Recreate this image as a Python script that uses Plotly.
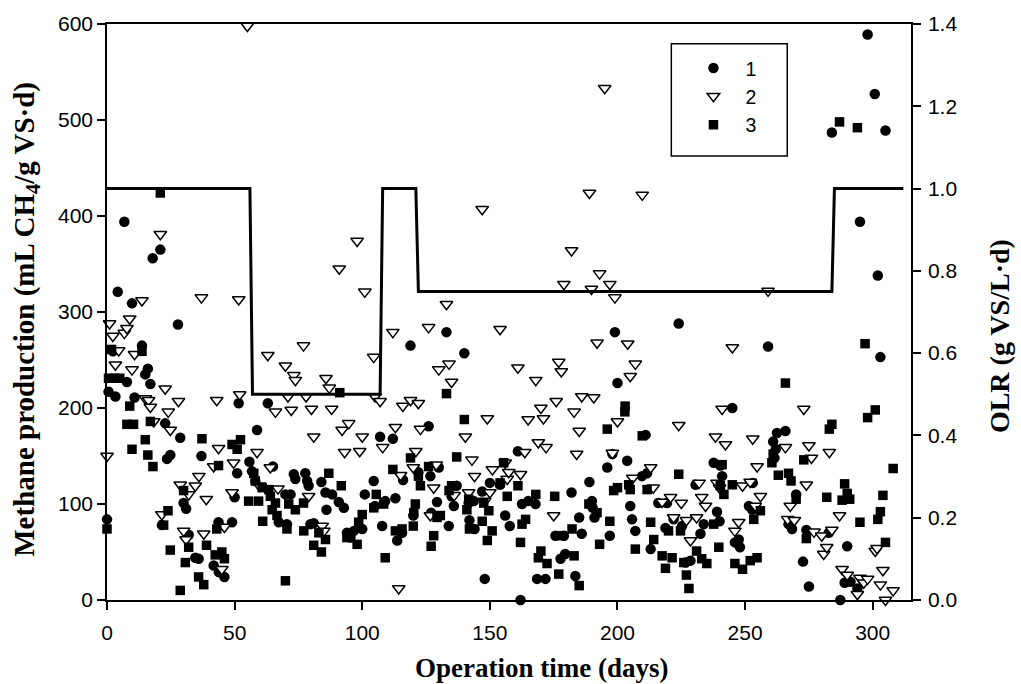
import plotly.graph_objects as go

# ---------------- data ----------------
olr_day = [0, 56, 57, 107, 108, 121, 122, 284, 285, 312]
olr_val = [1.0, 1.0, 0.5, 0.5, 1.0, 1.0, 0.75, 0.75, 1.0, 1.0]

s1_day = [0, 0.6, 2.3, 3.3, 4.2, 6.8, 7.8, 9.8, 10.8, 13.7, 15, 16, 17, 17.9, 20.9, 21.5, 22.8, 23.5,
          24.8, 27.8, 28.7, 30, 31, 32, 34.6, 35.9, 37, 41.8, 43.7, 43.8, 46, 49, 50, 51, 51.6,
          55.8, 56.8, 58.1, 58.8, 63, 65, 67.3, 69.9, 70.5, 71.9, 73.2, 73.8, 77.7, 78.4, 79, 79.7,
          81, 84, 85.6, 86, 88.2, 90.8, 92.8, 94, 95.4, 96.7, 100, 101, 104.5, 105,
          107, 107.8, 109, 112, 113, 113.7, 115.6, 116, 118.9, 120, 122, 126, 126.7, 127, 129.3,
          130, 133, 133.9, 135, 135.9, 137, 140, 141.7, 142, 143.7, 144, 147, 148, 150, 154, 156,
          157.8, 161, 162, 162.6, 165, 167.9, 168.5, 171.8, 175.7, 177.7, 179, 179.5, 182, 183.5,
          185, 186, 189, 190, 190.3, 191, 196, 197, 198, 199, 200, 203.8, 205, 205.7, 207, 209.6,
          211, 211.6, 213, 216, 218.8, 219.4, 222, 224, 225.3, 226.6, 228.6, 230.6, 232.5, 233.8,
          237.7, 239, 240, 240.3, 241, 245, 246, 247.5, 248, 251.5, 252.8, 253, 259,
          261, 261.5, 262, 262.5, 265.8, 267, 268.4, 270, 272.7, 274, 275, 282.8, 284, 287.3, 289,
          290, 291.3, 294, 295, 298, 300.8, 302, 303, 305]
s1_val = [84, 217, 259, 212, 321, 394, 227, 309, 211, 265, 235, 241, 225, 356, 365, 78, 184, 147,
          151, 287, 169, 101, 95, 68, 44, 43, 150, 36, 81, 29, 24, 81, 107, 132, 205,
          144, 134, 124, 177, 205, 139, 81, 110, 79, 110, 131, 126, 132, 124, 119, 79,
          80, 123, 112, 94, 110, 102, 96, 70, 65, 72, 74, 110, 124, 98,
          170, 77, 103, 168, 106, 62, 70, 125, 265, 88, 133, 181, 129, 91, 102,
          138, 279, 77, 108, 98, 119, 257, 101, 83, 103, 74, 113, 22, 122, 120, 88,
          77, 155, 0, 100, 103, 100, 22, 22, 67, 43, 67, 48, 112, 25,
          86, 69, 123, 103, 96, 86, 138, 67, 152, 279, 226, 145, 98, 84, 72, 129,
          172, 132, 53, 101, 75, 101, 84, 288, 77, 39, 41, 120, 69, 79,
          143, 92, 82, 140, 129, 200, 60, 63, 55, 98, 94, 122, 264,
          165, 148, 157, 174, 176, 79, 74, 110, 40, 73, 14, 70, 487, 0, 18,
          56, 19, 12, 394, 589, 527, 338, 253, 489]

s2_day = [0, 1, 2.3, 3.3, 4.6, 6.8, 7.8, 8.9, 9.8, 10.8, 13.7, 15, 16.3, 17, 18.3, 20.9, 21.5, 22.8,
          24, 24.8, 28, 28.7, 30, 31, 32, 34.6, 36, 37, 37.9, 38.9, 41.8, 43, 43.7, 45, 46, 49,
          49.6, 51.6, 52, 55, 58.8, 59.7, 63, 64, 66, 67, 69.9, 70.9, 72.2, 73.2, 73.8, 77, 78,
          79, 80.1, 81, 84.3, 85, 85.8, 87.1, 88, 91, 92.1, 93.1, 94.7, 98, 99, 100, 101, 104.5,
          105, 107, 108, 112, 113, 114.3, 115, 115.9, 118.9, 120, 121, 122, 122.8, 126, 126.7,
          128, 129, 130, 133, 134, 135, 136, 140.4, 141.7, 143, 144, 147, 148, 149, 150, 151,
          154, 156, 156.8, 157.4, 161, 162, 163.7, 165, 168, 169, 170, 171, 172, 175, 176, 177,
          178, 179, 182, 183, 184, 185, 186, 189, 189.8, 190.7, 192, 193, 195, 197, 198, 199,
          200, 204, 205, 206, 207, 209.7, 213, 214, 217.5, 220.8, 222, 224, 225, 227, 228.6, 231,
          232, 233, 234.5, 238.4, 239, 240, 241, 242.3, 245, 246, 247.5, 249, 252, 253, 254,
          254.7, 256, 259, 265.8, 266.7, 267.7, 269.3, 273, 274, 275, 276, 277, 280, 280.8, 282,
          283, 284, 287, 288, 290, 294, 295, 296.5, 298, 301, 301.7, 303, 304, 305, 308]
s2_val = [150, 288, 275, 245, 260, 278, 283, 293, 240, 256, 312, 210, 208, 201, 186, 381, 89, 220,
          196, 177, 207, 120, 72, 63, 110, 119, 129, 315, 69, 105, 139, 208, 158, 32, 76, 112,
          143, 313, 214, 598, 154, 119, 255, 138, 196, 116, 244, 212, 198, 234, 229, 265, 212,
          108, 199, 170, 77, 72, 231, 221, 199, 345, 177, 154, 184, 374, 155, 170, 321, 253,
          212, 207, 159, 279, 180, 12, 130, 202, 208, 138, 155, 205, 178, 284, 88,
          117, 141, 240, 308, 246, 227, 109, 170, 112, 146, 129, 407, 103, 189, 112, 136,
          282, 143, 126, 133, 242, 131, 154, 188, 229, 164, 200, 189, 159, 88, 207, 248,
          238, 329, 364, 196, 152, 176, 212, 424, 324, 211, 268, 340, 533, 329, 153, 315,
          186, 267, 233, 127, 246, 422, 138, 117, 102, 107, 86, 182, 101, 83, 62, 86,
          122, 107, 98, 170, 122, 117, 199, 162, 263, 72, 81, 119, 123, 168, 98,
          139, 108, 322, 159, 84, 98, 83, 199, 120, 161, 148, 71, 67, 48, 55,
          154, 73, 88, 32, 26, 6, 23, 18, 22, 51, 54, 16, 31, 0, 10]

s3_day = [0, 0.6, 1.8, 3, 5, 7.8, 8.9, 9.8, 10.4, 13.7, 15, 16, 17, 18, 20.9, 22.2, 23.9, 24.8, 28.7,
          30, 30.7, 32, 35.9, 37.2, 37.9, 39, 42.4, 43, 43.7, 45, 46, 49, 51, 52.3, 55.5, 57.5,
          58.1, 59.4, 60.8, 61, 63.4, 64, 64.7, 66, 66.6, 69.9, 70.5, 71.2, 73.8, 77, 77.1, 81,
          83, 84, 85.6, 86.9, 91.2, 91.8, 94, 98, 98.6, 100, 104.5, 105.5, 108.4, 109, 112, 113,
          115.6, 118.9, 120, 120.2, 120.8, 122, 122.8, 126, 127, 128, 129.3, 130.6, 133, 134,
          135, 137, 140, 141, 141.7, 142, 147, 147.6, 149, 149.6, 150.9, 154, 155.4, 156.8, 161,
          162, 162.6, 164, 168, 169, 170, 172.4, 175.4, 177, 178.3, 182.2, 183, 185, 188.8, 192,
          193, 196, 197, 198.5, 200, 202.9, 203, 204.4, 205, 207, 209.7, 211.6, 213, 214.2,
          217.5, 218.8, 220, 221.4, 224, 224.7, 226, 227, 228, 231, 233, 235, 237.7, 239.7,
          240.3, 241, 241.7, 245, 246, 249, 252, 253.4, 254.7, 256, 260.5, 261, 263, 265.8, 267,
          268, 270, 273, 274, 282, 283, 284, 287, 288, 289, 290, 291, 294, 295, 297, 298, 301,
          302, 303, 304, 305, 308]
s3_val = [74, 231, 261, 231, 231, 183, 202, 157, 183, 259, 167, 151, 186, 139, 424, 78, 93, 52, 10,
          114, 39, 55, 24, 168, 16, 57, 47, 74, 140, 50, 43, 162, 157, 167, 103, 132,
          124, 103, 117, 82, 115, 108, 94, 101, 88, 20, 74, 100, 94, 101, 72, 57,
          70, 50, 63, 132, 216, 119, 65, 58, 81, 89, 96, 110, 100, 44, 136, 72,
          74, 148, 77, 91, 100, 129, 119, 139, 56, 67, 86, 88, 215, 114,
          119, 149, 188, 94, 105, 74, 82, 101, 62, 93, 72, 122, 143, 108, 119,
          60, 79, 84, 110, 44, 51, 38, 108, 27, 67, 74, 46, 15, 100, 91,
          58, 178, 82, 114, 117, 196, 202, 120, 115, 53, 171, 115, 81, 63,
          46, 33, 72, 44, 131, 72, 39, 26, 12, 51, 43, 38, 79, 55,
          119, 141, 110, 120, 38, 32, 41, 84, 44, 93, 143, 152, 130, 226, 132,
          124, 105, 146, 64, 107, 178, 183, 498, 104, 121, 111, 105, 492, 81, 267, 190, 198,
          84, 92, 109, 60, 137]

x_ticks = [0, 50, 100, 150, 200, 250, 300]
y_ticks = [0, 100, 200, 300, 400, 500, 600]
y2_ticks = [0.0, 0.2, 0.4, 0.6, 0.8, 1.0, 1.2, 1.4]

x_title = "<b>Operation time (days)</b>"
y_title = "<b>Methane production (mL CH<sub>4</sub>/g VS·d)</b>"
y2_title = "<b>OLR (g VS/L·d)</b>"

# ---------------- figure ----------------
TICKFONT = dict(family="Liberation Sans, Arial, sans-serif", size=21, color="black")
SERIF = "Liberation Serif, Times New Roman, serif"

fig = go.Figure()

fig.add_trace(go.Scatter(
    x=olr_day, y=olr_val, mode="lines", yaxis="y2", showlegend=False,
    line=dict(color="black", width=3), hoverinfo="skip"))

fig.add_trace(go.Scatter(
    x=s1_day, y=s1_val, mode="markers", name="1", cliponaxis=False,
    marker=dict(symbol="circle", size=10.5, color="black")))
fig.add_trace(go.Scatter(
    x=s2_day, y=s2_val, mode="markers", name="2", cliponaxis=False,
    marker=dict(symbol="triangle-down", size=11, color="white",
                line=dict(color="black", width=1.5))))
fig.add_trace(go.Scatter(
    x=s3_day, y=s3_val, mode="markers", name="3", cliponaxis=False,
    marker=dict(symbol="square", size=9.5, color="black")))

axis_common = dict(ticks="outside", ticklen=8, tickwidth=1.5, tickcolor="black",
                   showline=True, linecolor="black", linewidth=1.5,
                   showgrid=False, zeroline=False, tickfont=TICKFONT)

fig.update_layout(
    width=1021, height=684,
    margin=dict(l=107, r=110, t=20, b=84),
    paper_bgcolor="white", plot_bgcolor="white",
    xaxis=dict(range=[0, 315], tickvals=x_ticks, mirror=True, ticklabelstandoff=5,
               **axis_common),
    yaxis=dict(range=[0, 600], tickvals=y_ticks, **axis_common),
    yaxis2=dict(range=[0, 1.4], tickvals=y2_ticks, tickformat=".1f", overlaying="y",
                side="right", ticklabelstandoff=3, **axis_common),
    legend=dict(
        x=0.7145, y=0.957, xanchor="left", yanchor="top",
        bgcolor="rgba(0,0,0,0)", borderwidth=0, itemwidth=54,
        font=dict(family="Liberation Sans, Arial, sans-serif", size=19.5, color="black"),
        tracegroupgap=0),
    shapes=[dict(type="rect", xref="paper", yref="paper",
                 x0=0.7019, x1=0.8461, y0=0.7707, y1=0.9655,
                 line=dict(color="black", width=1.5), fillcolor="rgba(0,0,0,0)")],
    annotations=[
        dict(text=x_title, xref="paper", yref="paper", x=0.540, y=-0.1172,
             xanchor="center", yanchor="middle", showarrow=False,
             font=dict(family=SERIF, size=27, color="black")),
        dict(text=y_title, xref="paper", yref="paper", x=-0.1004, y=0.487,
             xanchor="center", yanchor="middle", showarrow=False, textangle=-90,
             font=dict(family=SERIF, size=29, color="black")),
        dict(text=y2_title, xref="paper", yref="paper", x=1.111, y=0.4586,
             xanchor="center", yanchor="middle", showarrow=False, textangle=-90,
             font=dict(family=SERIF, size=28, color="black")),
    ],
)

fig.write_html("out.html")
